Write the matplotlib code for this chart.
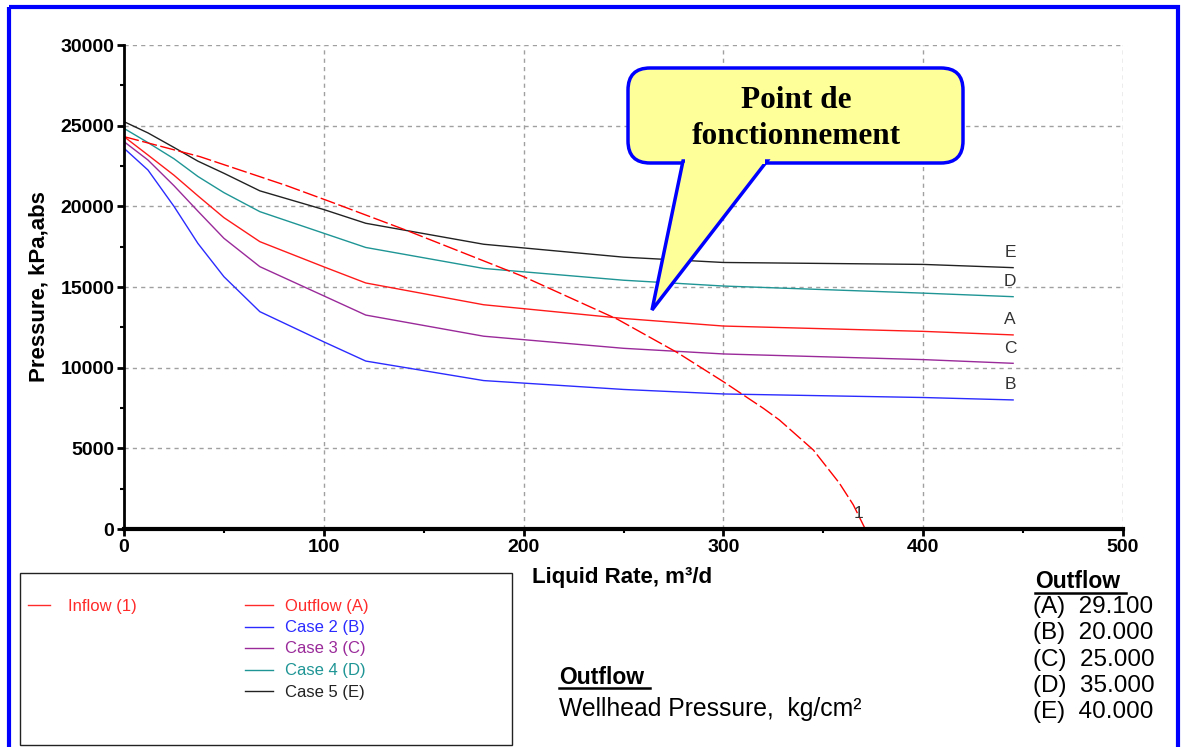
import numpy as np
import matplotlib
matplotlib.use("Agg")
import matplotlib.pyplot as plt
from matplotlib.patches import Rectangle, FancyBboxPatch, Polygon
from matplotlib.ticker import MultipleLocator

plt.rcParams['font.family'] = ['Liberation Sans', 'DejaVu Sans']

# outflow curves (liquid rate m3/d -> pressure kPa abs)
out_rate = [0, 12, 25, 37, 50, 68, 100, 121, 180, 250, 300, 400, 445]
out_E = [25250, 24550, 23650, 22800, 22050, 20960, 19800, 18950, 17650, 16850, 16520, 16400, 16200]
out_D = [24830, 23950, 22950, 21850, 20850, 19670, 18330, 17450, 16150, 15420, 15060, 14620, 14400]
out_A = [24320, 23180, 21930, 20650, 19300, 17810, 16250, 15250, 13900, 13050, 12580, 12250, 12030]
out_C = [24010, 22870, 21280, 19700, 18020, 16260, 14450, 13260, 11950, 11200, 10850, 10500, 10270]
out_B = [23600, 22250, 20000, 17700, 15640, 13470, 11600, 10410, 9200, 8650, 8370, 8150, 8000]

# inflow curve
in_rate = [0, 38, 81, 103, 141, 200, 247, 277, 300, 320, 328, 345, 358, 365, 371]
in_p = [24320, 23080, 21300, 20300, 18530, 15640, 13000, 10930, 9130, 7480, 6760, 4900, 2850, 1500, 0]

case_letters = ['E', 'D', 'A', 'C', 'B']
case_values = [out_E, out_D, out_A, out_C, out_B]
case_colors = ['#222222', '#1f9595', '#ff1a1a', '#9a2a9a', '#2b2bff']

legend_names = ['Outflow (A)', 'Case 2 (B)', 'Case 3 (C)', 'Case 4 (D)', 'Case 5 (E)']
legend_colors = ['#ff2a2a', '#2b2bff', '#9a2a9a', '#1f9595', '#222222']
whp_labels = ['(A)', '(B)', '(C)', '(D)', '(E)']
whp_values = ['29.100', '20.000', '25.000', '35.000', '40.000']

W, H = 1186, 747
fig = plt.figure(figsize=(W / 100, H / 100), dpi=100)
ax = fig.add_axes([124 / W, (H - 529) / H, 999 / W, 484 / H])

for vals, col in zip(case_values, case_colors):
    ax.plot(out_rate, vals, color=col, lw=1.0)
ax.plot(in_rate, in_p, color='#ff0000', lw=1.0, dashes=(11, 2.5))

for letter, vals in zip(case_letters, case_values):
    ax.annotate(letter, xy=(out_rate[-1], vals[-1]), xytext=(-3, 15),
                textcoords='offset pixels', ha='center', va='center',
                fontsize=12.5, color='#333333')
ax.annotate('1', xy=(in_rate[-1], in_p[-1]), xytext=(-7, 16),
            textcoords='offset pixels', ha='center', va='center',
            fontsize=12.5, color='#333333')

ax.set_xlim(0, 500)
ax.set_ylim(0, 30000)
ax.xaxis.set_major_locator(MultipleLocator(100))
ax.xaxis.set_minor_locator(MultipleLocator(50))
ax.yaxis.set_major_locator(MultipleLocator(5000))
ax.yaxis.set_minor_locator(MultipleLocator(2500))
ax.grid(True, which='major', color='#a0a0a0', lw=1.0, linestyle=(0, (3, 3)))
ax.spines['top'].set_visible(False)
ax.spines['right'].set_visible(False)
ax.spines['left'].set_linewidth(2)
ax.spines['bottom'].set_linewidth(3)
ax.tick_params(which='major', length=5, width=2, pad=2, labelsize=14)
ax.tick_params(which='minor', length=3, width=1.5)
for lab in ax.get_xticklabels() + ax.get_yticklabels():
    lab.set_fontweight('bold')
ax.set_ylabel('Pressure, kPa,abs', fontsize=16, fontweight='bold', labelpad=8)

# overlay in pixel coordinates for the decorations
ov = fig.add_axes([0, 0, 1, 1], zorder=5)
ov.set_xlim(0, W)
ov.set_ylim(H, 0)
ov.axis('off')
ov.patch.set_visible(False)

ov.add_patch(Rectangle((8.5, 7), 1169, 760, fill=False, ec='#0000ff', lw=3))

ov.text(532, 578, 'Liquid Rate, m³/d', fontsize=16, fontweight='bold',
        ha='left', va='center')

# legend box
ov.add_patch(Rectangle((20, 573), 492, 172, fill=False, ec='#222222', lw=1))
ov.plot([28, 50], [605, 605], color='#ff2a2a', lw=1)
ov.text(68, 606, 'Inflow (1)', color='#ff2a2a', fontsize=12, va='center')
for i, (name, col) in enumerate(zip(legend_names, legend_colors)):
    yy = 606 + 21.5 * i
    ov.plot([245, 273], [yy - 1, yy - 1], color=col, lw=1)
    ov.text(285, yy, name, color=col, fontsize=12, va='center')

# wellhead pressure note
ov.text(559, 677, 'Outflow', fontsize=16.5, fontweight='bold', va='center')
ov.plot([559, 650], [688, 688], color='black', lw=1.8)
ov.text(559, 709, 'Wellhead Pressure,  kg/cm²', fontsize=17.8, va='center')

ov.text(1035, 581, 'Outflow', fontsize=16.5, fontweight='bold', va='center')
ov.plot([1035, 1126], [593, 593], color='black', lw=1.8)
for i, (lab, val) in enumerate(zip(whp_labels, whp_values)):
    ov.text(1033, 607 + 26.3 * i, lab + '  ' + val, fontsize=17.5, va='center')

# callout bubble
ov.add_patch(FancyBboxPatch((628, 68), 335, 95, boxstyle='round,pad=0,rounding_size=22',
                            fc='#ffff99', ec='#0000ff', lw=2.5))
ov.add_patch(Polygon([[683, 161], [652, 310], [767, 161]], closed=True,
                     fc='#ffff99', ec='#0000ff', lw=2.5, joinstyle='miter'))
ov.add_patch(Rectangle((685, 155), 80, 9, fc='#ffff99', ec='none'))
ov.text(796, 100, 'Point de', family=['Liberation Serif'], fontsize=22.5,
        fontweight='bold', ha='center', va='center')
ov.text(796, 137, 'fonctionnement', family=['Liberation Serif'], fontsize=22.5,
        fontweight='bold', ha='center', va='center')

fig.savefig('out.png', dpi=100)
